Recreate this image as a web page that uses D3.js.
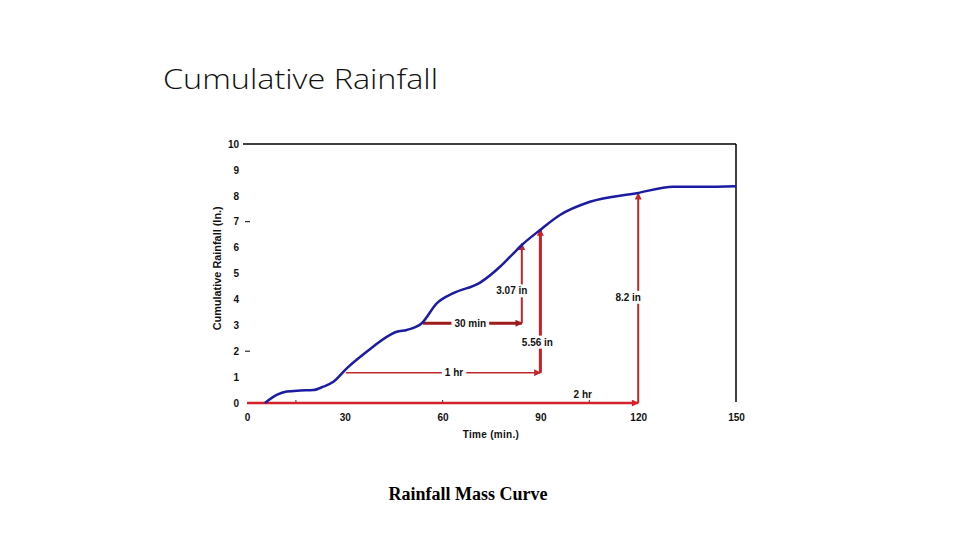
<!DOCTYPE html>
<html><head><meta charset="utf-8">
<script src="https://cdn.jsdelivr.net/npm/d3@7"></script>
<style>body{margin:0;background:#fff}svg{display:block}</style>
</head><body>
<script>
// Cumulative rainfall mass curve (time in minutes, depth in inches)
const times  = [5.5, 9.1, 12.2, 16.3, 20.3, 23.4, 26.5, 30.6, 36.7, 43.9, 45.9, 49, 53.6, 58.2, 63.3, 71.5, 77.6, 81.2, 84.3, 89.9, 96, 105.2, 119.5, 130.8, 139.9, 150];
const rain   = [0, 0.31, 0.44, 0.48, 0.5, 0.63, 0.82, 1.34, 1.98, 2.63, 2.75, 2.82, 3.08, 3.85, 4.24, 4.65, 5.26, 5.71, 6.1, 6.68, 7.26, 7.77, 8.1, 8.35, 8.35, 8.37];
const xTicks = [0, 30, 60, 90, 120, 150];
const yTicks = [0,1,2,3,4,5,6,7,8,9,10];
// duration arrows: label, start time, end time, depth level, label time
const durLabels = ["30 min", "1 hr", "2 hr"];
const durStart  = [54, 30.3, 0];
const durEnd    = [84.3, 90, 120];
const durLevel  = [3.08, 1.17, 0];
const durLabelT = [68.5, 63.5, 103];
// depth arrows: label, time, from depth, to depth, label depth
const depLabels = ["3.07 in", "5.56 in", "8.2 in"];
const depTime   = [84.3, 90, 120];
const depFrom   = [3.08, 1.17, 0];
const depTo     = [6.15, 6.7, 8.1];
const depLabelV = [4.33, 2.35, 4.08];

const W = 960, H = 540;
const svg = d3.select("body").append("svg").attr("width", W).attr("height", H);

svg.append("text").attr("x", 163).attr("y", 89).attr("font-family", "'Open Sans', Lato, sans-serif")
  .attr("font-weight", 300).attr("font-size", 28).attr("fill", "#111")
  .attr("textLength", 275).attr("lengthAdjust", "spacingAndGlyphs")
  .text("Cumulative Rainfall");

const x = d3.scaleLinear().domain([0, 150]).range([247, 736]);
const y = d3.scaleLinear().domain([0, 10]).range([403, 144]);

// frame (top and right)
svg.append("line").attr("x1", 243).attr("x2", x(150)).attr("y1", y(10)).attr("y2", y(10)).attr("stroke", "#000").attr("stroke-width", 1.5);
svg.append("line").attr("x1", x(150)).attr("x2", x(150)).attr("y1", y(10)).attr("y2", y(0) - 1).attr("stroke", "#000").attr("stroke-width", 1.5);

const tickFont = "'Liberation Sans', Arial, sans-serif";
const gy = svg.append("g").attr("transform", `translate(${x(0)},0)`)
  .call(d3.axisLeft(y).tickValues(yTicks).tickSize(0).tickPadding(8));
gy.select(".domain").remove();
gy.selectAll("text").attr("font-family", tickFont).attr("font-weight", "bold").attr("font-size", 10).attr("fill", "#111");

const gx = svg.append("g").attr("transform", `translate(0,${y(0)})`)
  .call(d3.axisBottom(x).tickValues(xTicks).tickSize(0).tickPadding(11));
gx.select(".domain").remove();
gx.selectAll("text").attr("font-family", tickFont).attr("font-weight", "bold").attr("font-size", 10).attr("fill", "#111");

// small stray marks on the axes
[7, 2].forEach(v => svg.append("line").attr("x1", x(0) - 2).attr("x2", x(0) + 3).attr("y1", y(v)).attr("y2", y(v)).attr("stroke", "#000").attr("stroke-width", 1));
[15, 60, 105].forEach(t => svg.append("line").attr("x1", x(t)).attr("x2", x(t)).attr("y1", y(0) - 3).attr("y2", y(0)).attr("stroke", "#333").attr("stroke-width", 1));

svg.append("text").attr("x", 491).attr("y", 438).attr("text-anchor", "middle").attr("font-family", tickFont)
  .attr("font-weight", "bold").attr("font-size", 10).attr("fill", "#111").attr("letter-spacing", 0.3).text("Time (min.)");
svg.append("text").attr("transform", `translate(221,${y(5.2)}) rotate(-90)`).attr("text-anchor", "middle")
  .attr("font-family", tickFont).attr("font-weight", "bold").attr("font-size", 10).attr("fill", "#111")
  .attr("textLength", 124).attr("lengthAdjust", "spacingAndGlyphs")
  .text("Cumulative Rainfall (In.)");

// arrow markers
const defs = svg.append("defs");
function marker(id, color) {
  defs.append("marker").attr("id", id).attr("viewBox", "0 0 10 10").attr("refX", 9).attr("refY", 5)
    .attr("markerWidth", 8).attr("markerHeight", 7).attr("markerUnits", "userSpaceOnUse").attr("orient", "auto")
    .append("path").attr("d", "M0,0L10,5L0,10Z").attr("fill", color);
}
const durColors = ["#9e1b1b", "#c0282c", "#d5222a"];
const durWidths = [3, 1.5, 2.5];
const depColors = ["#c0282c", "#cc1f26", "#c0282c"];
const depWidths = [2, 3, 2];
durColors.forEach((c, i) => marker("md" + i, c));
depColors.forEach((c, i) => marker("mv" + i, c));

durLabels.forEach((l, i) => {
  svg.append("line").attr("x1", x(durStart[i])).attr("x2", x(durEnd[i])).attr("y1", y(durLevel[i])).attr("y2", y(durLevel[i]))
    .attr("stroke", durColors[i]).attr("stroke-width", durWidths[i]).attr("marker-end", `url(#md${i})`);
});
depLabels.forEach((l, i) => {
  svg.append("line").attr("x1", x(depTime[i])).attr("x2", x(depTime[i])).attr("y1", y(depFrom[i])).attr("y2", y(depTo[i]))
    .attr("stroke", depColors[i]).attr("stroke-width", depWidths[i]).attr("marker-end", `url(#mv${i})`);
});

// rainfall curve
const pts = times.map((t, i) => [t, rain[i]]);
svg.append("path").datum(pts).attr("fill", "none").attr("stroke", "#1c1ca3").attr("stroke-width", 2.5)
  .attr("d", d3.line().x(d => x(d[0])).y(d => y(d[1])).curve(d3.curveMonotoneX));

const lab = svg.append("g");
function label(px, py, text, fill) {
  const t = lab.append("text").attr("x", px).attr("y", py).attr("text-anchor", "middle").attr("dy", "0.35em")
    .attr("font-family", tickFont).attr("font-weight", "bold").attr("font-size", 10).attr("fill", "#111").text(text);
  const b = t.node().getBBox();
  if (fill) lab.insert("rect", "text").attr("x", b.x - 3).attr("y", b.y - 1).attr("width", b.width + 6).attr("height", b.height + 2).attr("fill", "#fff");
}
durLabels.forEach((l, i) => {
  if (durLevel[i] === 0) label(x(durLabelT[i]), y(durLevel[i]) - 9, l, false);
  else label(x(durLabelT[i]), y(durLevel[i]), l, true);
});
depLabels.forEach((l, i) => label(x(depTime[i]) - 10 + (i === 1 ? 7 : 0), y(depLabelV[i]), l, true));

svg.append("text").attr("x", 468).attr("y", 500).attr("text-anchor", "middle")
  .attr("font-family", "'Liberation Serif', 'Times New Roman', serif").attr("font-weight", "bold")
  .attr("font-size", 18).attr("fill", "#000").text("Rainfall Mass Curve");
</script>
</body></html>
